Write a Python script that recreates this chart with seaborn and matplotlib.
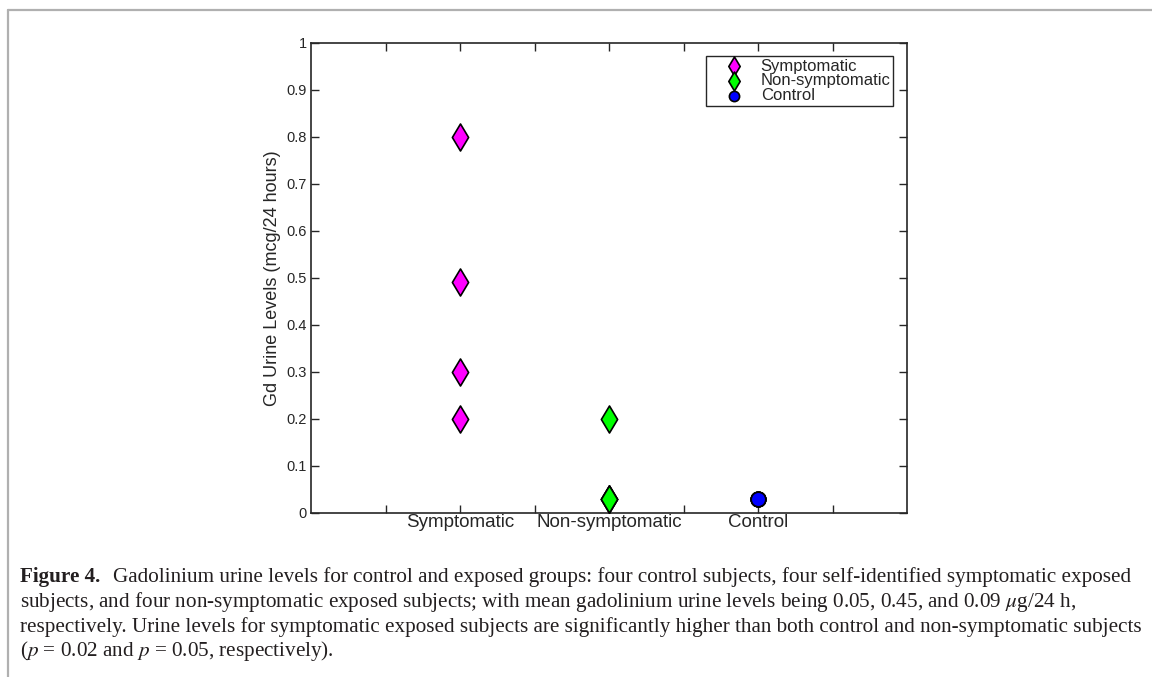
import numpy as np
import pandas as pd
import seaborn as sns
import matplotlib.pyplot as plt
from matplotlib.lines import Line2D

# values (mcg/24 hours)
groups = ["Symptomatic", "Non-symptomatic", "Control"]
symptomatic = [0.80, 0.49, 0.30, 0.20]
non_symptomatic = [0.20, 0.03, 0.03, 0.03]
control = [0.03, 0.03, 0.03, 0.03]
colors = ["#FF00FF", "#00FF00", "#0000FF"]
markers = ["d", "d", "o"]
yticks = [0, 0.1, 0.2, 0.3, 0.4, 0.5, 0.6, 0.7, 0.8, 0.9, 1]

df = pd.DataFrame({
    "group": ["Symptomatic"] * len(symptomatic) + ["Non-symptomatic"] * len(non_symptomatic)
             + ["Control"] * len(control),
    "level": symptomatic + non_symptomatic + control,
})
df["pos"] = df["group"].map({g: i + 1 for i, g in enumerate(groups)})

sns.set_theme(style="ticks")
plt.rcParams["font.family"] = ["Liberation Sans", "DejaVu Sans"]
plt.rcParams["mathtext.fontset"] = "stix"

W, H = 1152, 677
fig = plt.figure(figsize=(W / 100, H / 100), dpi=100)
ax = fig.add_axes([311 / W, 1 - 512.7 / H, (907 - 311) / W, (512.7 - 42.7) / H])

gray = "#262626"
for g, c, m in zip(groups, colors, markers):
    sub = df[df["group"] == g]
    sns.scatterplot(data=sub, x="pos", y="level", ax=ax, color=c, marker=m,
                    s=190 if m == "d" else 110, edgecolor="black", linewidth=1.2,
                    label=g, zorder=3)

ax.set_xlim(0, 4)
ax.set_ylim(0, 1)
ax.set_xticks(np.arange(0.5, 4, 0.5))
ax.set_xticklabels(["", groups[0], "", groups[1], "", groups[2], ""], fontsize=13.5, color=gray)
ax.set_yticks(yticks)
ax.set_yticklabels([f"{v:g}" for v in yticks], fontsize=10.5, color=gray)
ax.tick_params(direction="in", top=True, right=True, length=6, width=1, color=gray, pad=3)
ax.tick_params(axis="x", pad=1)
ax.set_xlabel("")
ax.set_ylabel("Gd Urine Levels (mcg/24 hours)", fontsize=13, color=gray, labelpad=4)
for s in ax.spines.values():
    s.set_color(gray)
    s.set_linewidth(1.2)

leg = ax.legend(loc="upper right", bbox_to_anchor=((893 - 311) / 596, (512.7 - 56) / 470),
                borderaxespad=0, fontsize=12, frameon=True, fancybox=False,
                edgecolor=gray, framealpha=1, handletextpad=0.1, borderpad=0.15,
                labelspacing=0.0, markerscale=0.7, handlelength=3.05)
leg.get_frame().set_linewidth(1)

# page frame lines (top and left)
fig.add_artist(Line2D([8 / W, 1], [1 - 10 / H, 1 - 10 / H], transform=fig.transFigure,
                      color="#b0b0b0", lw=1.6))
fig.add_artist(Line2D([8 / W, 8 / W], [0, 1 - 10 / H], transform=fig.transFigure,
                      color="#b0b0b0", lw=1.6))

# caption
serif = ["Liberation Serif", "DejaVu Serif"]
cap_size = 15.2
fig.text(20 / W, 1 - 577 / H, "Figure 4.", fontsize=cap_size, fontweight="bold",
         family=serif, va="center", ha="left", color="#231f20")
lines = [
    (113, 577, "Gadolinium urine levels for control and exposed groups: four control subjects, four self-identified symptomatic exposed"),
    (20, 602, r"subjects, and four non-symptomatic exposed subjects; with mean gadolinium urine levels being 0.05, 0.45, and 0.09 $\mu$g/24 h,"),
    (20, 627, "respectively. Urine levels for symptomatic exposed subjects are significantly higher than both control and non-symptomatic subjects"),
    (20, 651, r"($p$ = 0.02 and $p$ = 0.05, respectively)."),
]
for x, y, t in lines:
    fig.text(x / W, 1 - y / H, t, fontsize=cap_size, family=serif, va="center",
             ha="left", color="#231f20")

fig.savefig("out.png", dpi=100)
